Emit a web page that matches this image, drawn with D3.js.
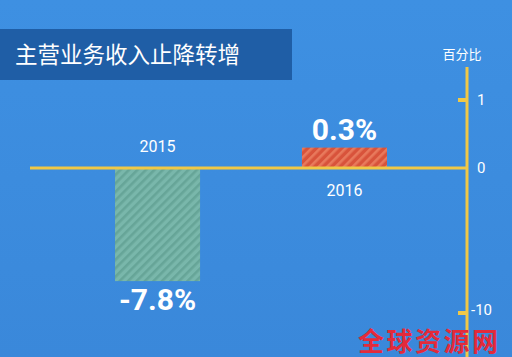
<!DOCTYPE html>
<html>
<head>
<meta charset="utf-8">
<script src="https://cdn.jsdelivr.net/npm/d3@7"></script>
<style>
  body { margin: 0; background: #3c8de0; }
  svg { display: block; font-family: "Noto Sans CJK SC", "Noto Sans", sans-serif; }
</style>
</head>
<body>
<svg id="chart" width="512" height="357"></svg>
<script>
const title = "主营业务收入止降转增";
const unitLabel = "百分比";
const years = ["2015", "2016"];
const growth = [-7.8, 0.3];
const tickValues = [1, 0, -10];
const watermark = "全球资源网";

const svg = d3.select("#chart");
const W = 512, H = 357;

const defs = svg.append("defs");
const bg = defs.append("linearGradient").attr("id", "bg")
    .attr("x1", 0).attr("y1", 0).attr("x2", 0).attr("y2", 1);
bg.append("stop").attr("offset", "0%").attr("stop-color", "#3e90e2");
bg.append("stop").attr("offset", "100%").attr("stop-color", "#3a88da");

function stripes(id, base, line) {
  const p = defs.append("pattern").attr("id", id)
      .attr("patternUnits", "userSpaceOnUse")
      .attr("width", 6).attr("height", 6)
      .attr("patternTransform", "rotate(45)");
  p.append("rect").attr("width", 6).attr("height", 6).attr("fill", base);
  p.append("rect").attr("width", 2.6).attr("height", 6).attr("fill", line);
}
stripes("neg", "#79b7ab", "#66a598");
stripes("pos", "#d8533b", "#e8795c");

svg.append("rect").attr("width", W).attr("height", H).attr("fill", "url(#bg)");

// title box
svg.append("rect").attr("x", 0).attr("y", 29).attr("width", 292).attr("height", 51)
    .attr("fill", "#1f5ea6");
svg.append("text").attr("x", 15).attr("y", 63)
    .attr("fill", "#fff").attr("font-size", 22.5)
    .text(title);

// scales (the original axis is not drawn to one linear scale)
const axisX = 467;
const y = d3.scaleLinear().domain([-10, 0, 1]).range([313, 168, 100]);
const x = d3.scaleBand().domain(years).range([115, 387]).paddingInner(0.545).paddingOuter(0);

// bars
svg.selectAll(".bar")
  .data(years.map((d, i) => ({ year: d, v: growth[i] })))
  .enter().append("rect")
    .attr("class", "bar")
    .attr("x", d => x(d.year))
    .attr("y", d => y(Math.max(0, d.v)))
    .attr("width", x.bandwidth())
    .attr("height", d => Math.abs(y(d.v) - y(0)))
    .attr("fill", d => d.v < 0 ? "url(#neg)" : "url(#pos)");

// baseline
svg.append("line")
    .attr("x1", 30).attr("x2", axisX)
    .attr("y1", y(0)).attr("y2", y(0))
    .attr("stroke", "#f0c846").attr("stroke-width", 3);

// vertical axis
svg.append("line")
    .attr("x1", axisX).attr("x2", axisX)
    .attr("y1", 67).attr("y2", H)
    .attr("stroke", "#f0c846").attr("stroke-width", 3);

const ticks = svg.selectAll(".tick").data(tickValues).enter().append("g")
    .attr("class", "tick")
    .attr("transform", d => "translate(0," + y(d) + ")");
ticks.filter(d => d !== 0).append("line")
    .attr("x1", 458).attr("x2", axisX)
    .attr("stroke", "#f0c846").attr("stroke-width", 4);
ticks.append("text")
    .attr("x", d => d < 0 ? 471 : 477)
    .attr("y", d => d < 0 ? -3 : 0)
    .attr("dy", "0.34em")
    .attr("fill", "#fff").attr("font-size", 15)
    .attr("font-family", "Roboto, sans-serif")
    .text(d => d);

svg.append("text").attr("x", 462).attr("y", 59)
    .attr("text-anchor", "middle").attr("fill", "#fff").attr("font-size", 13)
    .text(unitLabel);

// year labels: above for negative bars, below for positive
svg.selectAll(".year").data(years).enter().append("text")
    .attr("class", "year")
    .attr("x", d => x(d) + x.bandwidth() / 2)
    .attr("y", (d, i) => growth[i] < 0 ? y(0) - 16 : y(0) + 28)
    .attr("text-anchor", "middle").attr("fill", "#fff").attr("font-size", 16)
    .attr("font-family", "Roboto, sans-serif")
    .text(d => d);

// value labels
svg.selectAll(".val").data(growth).enter().append("text")
    .attr("class", "val")
    .attr("x", (d, i) => x(years[i]) + x.bandwidth() / 2)
    .attr("y", d => d < 0 ? y(d) + 29 : y(d) - 8)
    .attr("text-anchor", "middle").attr("fill", "#fff")
    .attr("font-size", 30).attr("font-weight", "bold")
    .attr("font-family", "Roboto, sans-serif")
    .text(d => d + "%");

// watermark
svg.append("text").attr("x", 358).attr("y", 351)
    .attr("fill", "#e42a3a").attr("font-size", 26).attr("font-weight", "bold")
    .attr("letter-spacing", 2.5)
    .text(watermark);
</script>
</body>
</html>
